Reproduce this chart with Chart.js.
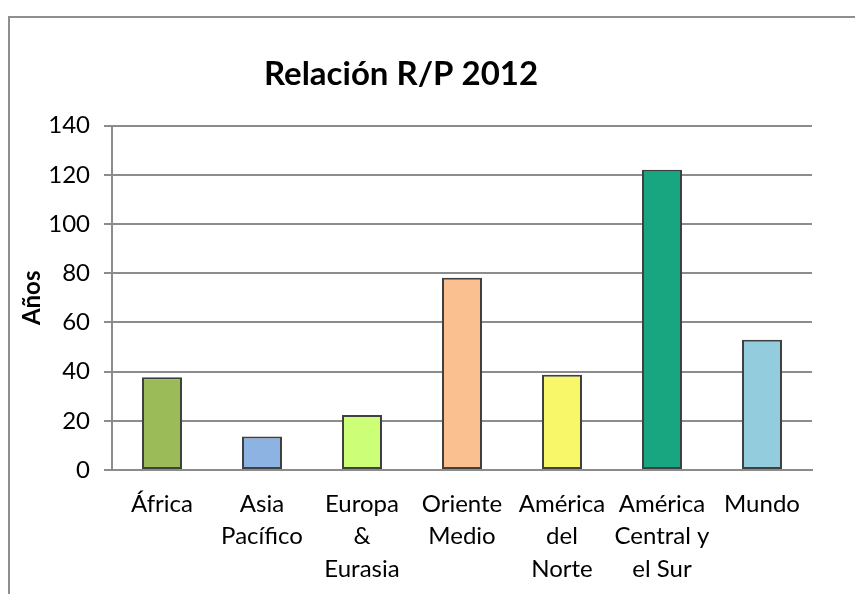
<!DOCTYPE html>
<html>
<head>
<meta charset="utf-8">
<script src="https://cdn.jsdelivr.net/npm/chart.js@4/dist/chart.umd.min.js"></script>
<style>
	body { margin: 0; background: #fff; overflow: hidden; }
	#frame { position: absolute; left: 8px; top: 16px; width: 900px; height: 700px;
		border-left: 2px solid #8e8e8e; border-top: 2px solid #8e8e8e; }
	#wrap { position: absolute; left: 0; top: 0; width: 855px; height: 594px; }
</style>
</head>
<body>
<div id="frame"></div>
<div id="wrap"><canvas id="myChart" width="855" height="594"></canvas></div>
<script>
// categories and values (años de reservas / producción)
var regiones = ["África", ["Asia", "Pacífico"], ["Europa", "&", "Eurasia"], ["Oriente", "Medio"],
	["América", "del", "Norte"], ["América", "Central y", "el Sur"], "Mundo"];
var anos = [37.7, 13.6, 22.4, 78.1, 38.7, 122.1, 52.9];
var barColors = ["#9bbb59", "#8db3e2", "#ccff77", "#fac090", "#f8f769", "#17a680", "#93cddd"];
var yTicks = [0, 20, 40, 60, 80, 100, 120, 140];

var fontName = "Lato, 'Open Sans', sans-serif";

// move the title so it sits over the whole chart object, like the original
var titlePos = {
	id: "titlePos",
	beforeDraw: function(chart) {
		if (chart.titleBlock) {
			chart.titleBlock.left = 0;
			chart.titleBlock.right = 802;
		}
	}
};

new Chart("myChart", {
	type: "bar",
	data: {
		labels: regiones,
		datasets: [{
			data: anos,
			backgroundColor: barColors,
			borderColor: "#404040",
			borderWidth: 2,
			borderSkipped: false,
			categoryPercentage: 0.4,
			barPercentage: 1
		}]
	},
	plugins: [titlePos],
	options: {
		responsive: false,
		animation: false,
		layout: { padding: { left: 0, right: 43, top: 0, bottom: 0 } },
		plugins: {
			legend: { display: false },
			tooltip: { enabled: false },
			title: {
				display: true,
				text: "Relación R/P 2012",
				color: "#000",
				font: { family: fontName, size: 33, weight: "bold" },
				padding: { top: 55, bottom: 31 }
			}
		},
		scales: {
			x: {
				grid: { display: false, drawTicks: false },
				border: { display: true, color: "#8c8c8c", width: 2 },
				ticks: {
					color: "#000",
					padding: 18,
					maxRotation: 0,
					autoSkip: false,
					font: { family: fontName, size: 24, lineHeight: 1.35 }
				},
				afterFit: function(scale) { scale.height = 124; }
			},
			y: {
				min: 0,
				max: 140,
				afterBuildTicks: function(scale) {
					scale.ticks = yTicks.map(function(v) { return { value: v }; });
				},
				grid: { color: "#8c8c8c", lineWidth: 2, tickLength: 8 },
				border: { display: true, color: "#8c8c8c", width: 2 },
				ticks: {
					color: "#000",
					padding: 14,
					font: { family: fontName, size: 24 }
				},
				title: {
					display: true,
					text: "Años",
					color: "#000",
					padding: { top: 18, bottom: 0 },
					font: { family: fontName, size: 24, weight: "bold" }
				},
				afterFit: function(scale) { scale.width = 112; }
			}
		}
	}
});
</script>
</body>
</html>
